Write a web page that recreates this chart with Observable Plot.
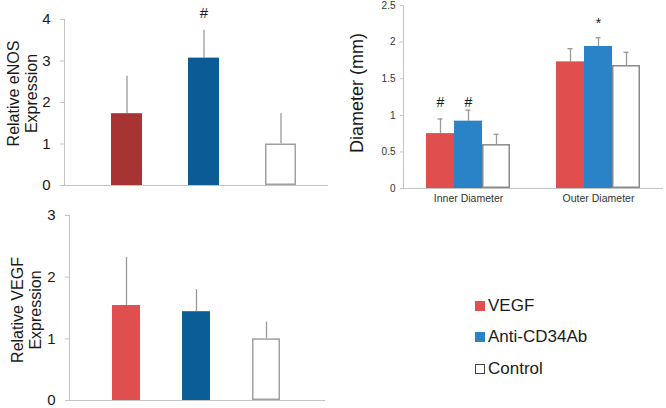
<!DOCTYPE html>
<html>
<head>
<meta charset="utf-8">
<script src="https://cdn.jsdelivr.net/npm/d3@7"></script>
<script src="https://cdn.jsdelivr.net/npm/@observablehq/plot@0.6"></script>
<style>
  html, body { margin: 0; padding: 0; background: #fff; }
  #wrap { position: relative; width: 666px; height: 408px; overflow: hidden; font-family: "Liberation Sans", Arial, sans-serif; }
  .panel { position: absolute; }
  #legend { position: absolute; left: 475px; top: 290px; }
  .lg-row { display: flex; align-items: center; height: 31.5px; font-size: 17px; color: #1a1a1a; }
  .lg-sw { width: 10px; height: 10px; margin-right: 3px; box-sizing: border-box; }
</style>
</head>
<body>
<div id="wrap">
  <div class="panel" id="p1" style="left:0;top:0;"></div>
  <div class="panel" id="p2" style="left:340px;top:0;"></div>
  <div class="panel" id="p3" style="left:0;top:203px;"></div>
  <div id="legend"></div>
</div>
<script>
// ---------- data ----------
const groups = ["VEGF", "Anti-CD34Ab", "Control"];

// Panel: Relative eNOS expression
const enosMean = [1.73, 3.07, 1.00];
const enosErr  = [0.90, 0.67, 0.73];
const enosSig  = ["", "#", ""];
const enosTicks = [0, 1, 2, 3, 4];
const enosColors = ["#a83333", "#0b5c95", "#ffffff"];

// Panel: Diameter (mm)
const diamCats = ["Inner Diameter", "Outer Diameter"];
const diamInnerMean = [0.75, 0.92, 0.60];
const diamInnerErr  = [0.20, 0.15, 0.14];
const diamInnerSig  = ["#", "#", ""];
const diamOuterMean = [1.73, 1.94, 1.68];
const diamOuterErr  = [0.18, 0.12, 0.18];
const diamOuterSig  = ["", "*", ""];
const diamTicks = [0, 0.5, 1, 1.5, 2, 2.5];
const diamColors = ["#e04e4e", "#2a83c6", "#ffffff"];

// Panel: Relative VEGF expression
const vegfMean = [1.54, 1.44, 1.00];
const vegfErr  = [0.78, 0.36, 0.27];
const vegfTicks = [0, 1, 2, 3];
const vegfColors = ["#e04f4f", "#0b5d96", "#ffffff"];

// Legend
const legendColors = ["#e04e4e", "#2a83c6", "#ffffff"];

// ---------- helpers ----------
const FONT = "Liberation Sans, Arial, sans-serif";
const AXIS = "#c4c4c4";
const ERR = "#9a9a9a";
const OUTLINE = "#a0a0a0";

const rows = (means, errs, sigs) => groups.map((g, i) => ({
  group: g, mean: means[i], top: means[i] + errs[i], sig: sigs ? sigs[i] : ""
}));

function simplePanel({data, colors, ticks, yMax, width, height, ml, mr, mt, mb, xRange, capInset, title, tdx, tdy, sigDy}) {
  return Plot.plot({
    width, height, marginLeft: ml, marginRight: mr, marginTop: mt, marginBottom: mb,
    style: {fontFamily: FONT, background: "transparent", overflow: "visible", color: "#1a1a1a"},
    x: {domain: groups, range: xRange, padding: 0.6, axis: null},
    y: {domain: [0, yMax], axis: null},
    color: {domain: groups, range: colors},
    marks: [
      Plot.frame({anchor: "left", stroke: AXIS}),
      Plot.axisY({ticks, tickSize: 4, tickPadding: 10, tickFormat: d => String(d), fontSize: 15, stroke: AXIS, fill: "#1a1a1a", label: null}),
      Plot.ruleY([0], {stroke: AXIS}),
      Plot.ruleX(data, {x: "group", y1: "mean", y2: "top", stroke: ERR, strokeWidth: 1.3}),
      Plot.tickY(data, {x: "group", y: "top", stroke: ERR, strokeWidth: 1.3, insetLeft: capInset, insetRight: capInset}),
      Plot.barY(data, {x: "group", y: "mean", fill: "group"}),
      Plot.barY(data.filter(d => d.group === "Control"), {x: "group", y: "mean", fill: "none", stroke: OUTLINE, strokeWidth: 1.5, inset: 0.75}),
      Plot.text(data.filter(d => d.sig), {x: "group", y: "top", text: "sig", dy: sigDy, fontSize: 15, fill: "#1a1a1a"}),
      Plot.text([title], {text: d => d, frameAnchor: "left", textAnchor: "middle", lineAnchor: "middle", rotate: -90, dx: tdx, dy: tdy, fontSize: 16, lineHeight: 1.1, fill: "#1a1a1a"})
    ]
  });
}

// ---------- panel 1 ----------
document.getElementById("p1").appendChild(simplePanel({
  data: rows(enosMean, enosErr, enosSig), colors: enosColors, ticks: enosTicks, yMax: 4,
  width: 335, height: 195, ml: 64, mr: 7, mt: 19, mb: 10, xRange: [64, 343], capInset: 15.5,
  title: "Relative eNOS\nExpression", tdx: -42, tdy: -9, sigDy: -17
}));

// ---------- panel 3 ----------
document.getElementById("p3").appendChild(simplePanel({
  data: rows(vegfMean, vegfErr, null), colors: vegfColors, ticks: vegfTicks, yMax: 3,
  width: 335, height: 205, ml: 69, mr: 10, mt: 12, mb: 8, xRange: [69, 322], capInset: 14,
  title: "Relative VEGF\nExpression", tdx: -43, tdy: 2, sigDy: -15
}));

// ---------- panel 2 (grouped, faceted) ----------
const diamData = [];
[[diamInnerMean, diamInnerErr, diamInnerSig], [diamOuterMean, diamOuterErr, diamOuterSig]].forEach(([m, e, s], ci) => {
  const r = rows(m, e, s);
  const catTop = d3.max(r, d => d.top);
  r.forEach(d => diamData.push({...d, cat: diamCats[ci], catTop}));
});

const p2 = Plot.plot({
  width: 326, height: 210, marginLeft: 62, marginRight: 3, marginTop: 5, marginBottom: 22,
  style: {fontFamily: FONT, background: "transparent", overflow: "visible", color: "#333"},
  fx: {domain: diamCats, padding: 0, label: null},
  x: {domain: groups, paddingInner: 0, paddingOuter: 0.75, axis: null},
  y: {domain: [0, 2.5], axis: null},
  color: {domain: groups, range: diamColors},
  marks: [
    Plot.frame({anchor: "left", stroke: AXIS, facetAnchor: "left"}),
    Plot.axisY({ticks: diamTicks, tickSize: 3, tickPadding: 5, tickFormat: d => String(d), fontSize: 10, stroke: AXIS, fill: "#333", label: null}),
    Plot.axisFx({anchor: "bottom", tickSize: 0, tickPadding: 6, fontSize: 10.5, fill: "#333", label: null}),
    Plot.ruleY([0], {stroke: AXIS}),
    Plot.ruleX(diamData, {fx: "cat", x: "group", y1: "mean", y2: "top", stroke: ERR, strokeWidth: 1.3}),
    Plot.tickY(diamData, {fx: "cat", x: "group", y: "top", stroke: ERR, strokeWidth: 1.3, insetLeft: 11.5, insetRight: 11.5}),
    Plot.barY(diamData, {fx: "cat", x: "group", y: "mean", fill: "group"}),
    Plot.barY(diamData.filter(d => d.group === "Control"), {fx: "cat", x: "group", y: "mean", fill: "none", stroke: "#8a8a8a", strokeWidth: 1.5, inset: 0.75}),
    Plot.text(diamData.filter(d => d.sig === "#"), {fx: "cat", x: "group", y: "catTop", text: "sig", dy: -8, fontSize: 14, fill: "#1a1a1a"}),
    Plot.text(diamData.filter(d => d.sig === "*"), {fx: "cat", x: "group", y: "catTop", text: "sig", dy: -14, fontSize: 14, fill: "#1a1a1a"}),
    Plot.text([diamCats[0]], {fx: d => d, text: () => "Diameter (mm)", frameAnchor: "left", textAnchor: "middle", rotate: -90, dx: -46, dy: -4, fontSize: 18, fill: "#1a1a1a"})
  ]
});
document.getElementById("p2").appendChild(p2);

// ---------- legend ----------
const lg = document.getElementById("legend");
groups.forEach((g, i) => {
  const row = document.createElement("div");
  row.className = "lg-row";
  const sw = document.createElement("span");
  sw.className = "lg-sw";
  sw.style.background = legendColors[i];
  if (legendColors[i] === "#ffffff") sw.style.border = "1px solid #444";
  const tx = document.createElement("span");
  tx.textContent = g;
  row.appendChild(sw); row.appendChild(tx);
  lg.appendChild(row);
});
</script>
</body>
</html>
